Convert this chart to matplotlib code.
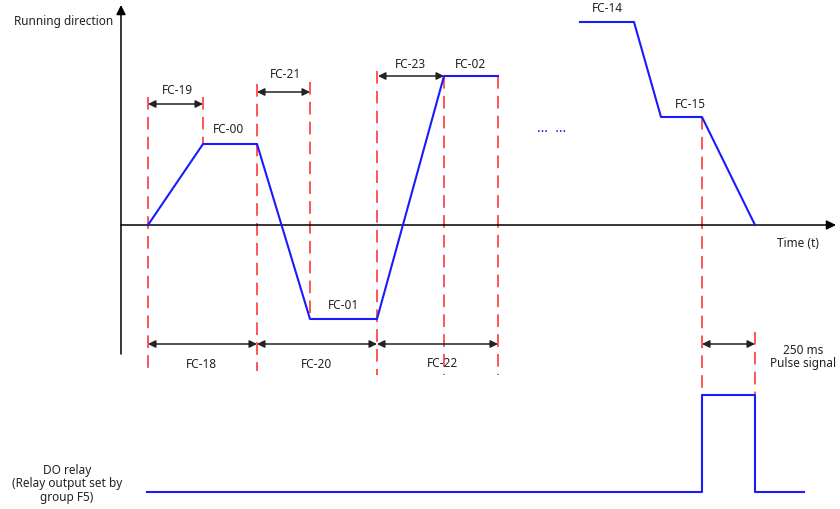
import matplotlib
matplotlib.use("Agg")
import matplotlib.pyplot as plt

plt.rcParams['font.family'] = ['Noto Sans', 'DejaVu Sans']

# Speed profile (pixel-space diagram coordinates)
profile1_x = [148, 203, 257, 310, 377, 444, 498]
profile1_y = [226, 145, 145, 320, 320, 77, 77]
profile2_x = [580, 634, 661, 702, 755]
profile2_y = [23, 23, 118, 118, 226]
relay_x = [147, 702, 702, 755, 755, 804]
relay_y = [493, 493, 396, 396, 493, 493]

# Red dashed guide lines: (x, y_top, y_bottom)
guides = [(148, 98, 372), (203, 98, 145), (257, 85, 372), (310, 83, 320),
          (377, 72, 376), (444, 77, 376), (498, 77, 376), (702, 118, 396),
          (755, 333, 410)]

# Double arrows: (x0, x1, y)
spans = [(148, 203, 105), (257, 310, 93), (378, 444, 77),
         (148, 257, 345), (257, 377, 345), (377, 498, 345), (702, 755, 345)]

labels = [("FC-19", 177, 90), ("FC-00", 229, 130), ("FC-21", 285, 75),
          ("FC-23", 410, 64), ("FC-02", 471, 64), ("FC-01", 343, 306),
          ("FC-18", 201, 365), ("FC-20", 317, 365), ("FC-22", 443, 364),
          ("FC-14", 607, 9), ("FC-15", 690, 105), ("Time (t)", 798, 244),
          ("Running direction", 64, 21), ("250 ms\nPulse signal", 803, 357),
          ("DO relay\n(Relay output set by\ngroup F5)", 67, 484)]

fig = plt.figure(figsize=(8.4, 5.1), dpi=100)
ax = fig.add_axes([0, 0, 1, 1])
ax.set_xlim(0, 840)
ax.set_ylim(510, 0)
ax.axis('off')

# axes
ax.annotate('', xy=(121, 6), xytext=(121, 355),
            arrowprops=dict(arrowstyle='-|>', color='black', lw=1.1,
                            mutation_scale=14, shrinkA=0, shrinkB=0))
ax.annotate('', xy=(836, 226), xytext=(121, 226),
            arrowprops=dict(arrowstyle='-|>', color='black', lw=1.1,
                            mutation_scale=14, shrinkA=0, shrinkB=0))

for x, y0, y1 in guides:
    ax.plot([x, x], [y0, y1], color='#ff3333', lw=1.3, dashes=(7, 4), alpha=0.9, zorder=2)

ax.plot(profile1_x, profile1_y, color='#1a1aff', lw=1.5, zorder=3)
ax.plot(profile2_x, profile2_y, color='#1a1aff', lw=1.5, zorder=3)
ax.plot(relay_x, relay_y, color='#1a1aff', lw=1.5, zorder=3)
ax.text(552, 129, '…  …', color='#1a1aff', ha='center', va='center', fontsize=10)

for x0, x1, y in spans:
    ax.annotate('', xy=(x1, y), xytext=(x0, y),
                arrowprops=dict(arrowstyle='<|-|>', color='#222222', lw=1.1,
                                mutation_scale=11, shrinkA=0, shrinkB=0), zorder=4)

for t, x, y in labels:
    ax.text(x, y, t, ha='center', va='center', fontsize=8.5, color='#222222',
            linespacing=1.05)

fig.savefig('out.png', dpi=100)
